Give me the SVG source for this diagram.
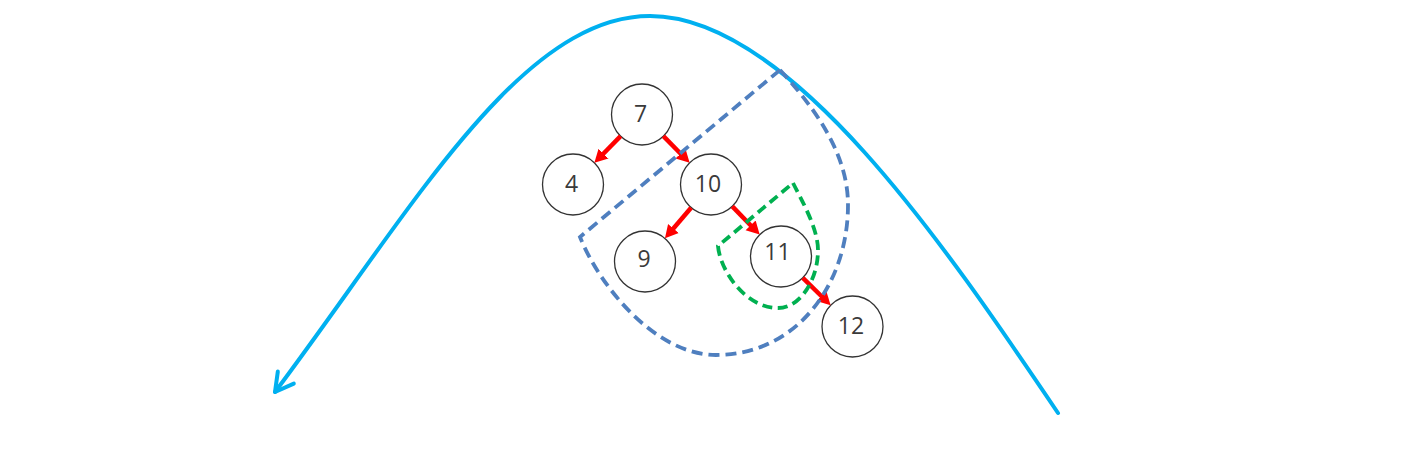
<svg xmlns="http://www.w3.org/2000/svg" width="1409" height="451" viewBox="0 0 1409 451">
<style>
.node circle{fill:#ffffff;stroke:#333333;stroke-width:1.3}
.node text{font-family:"Open Sans","Noto Sans","Liberation Sans",sans-serif;font-size:23px;fill:#3a3a3a;text-anchor:middle}
.edge{stroke:#ff0000;stroke-width:4.5;fill:none;marker-end:url(#rh)}
.sweep{stroke:#00b0f0;stroke-width:4;fill:none;stroke-linecap:round;marker-end:url(#ca)}
.blue{stroke:#4f7fbf;stroke-width:3.8;fill:none;stroke-dasharray:11 6;stroke-linejoin:miter}
.green{stroke:#00b050;stroke-width:3.8;fill:none;stroke-dasharray:10 5.5;stroke-linejoin:miter}
</style>
<defs>
<marker id="rh" markerUnits="userSpaceOnUse" viewBox="0 -8 16 16" markerWidth="16" markerHeight="16" refX="2" refY="0" orient="auto">
<path d="M0,-7 L13,0 L0,7 z" fill="#ff0000"/>
</marker>
<marker id="ca" markerUnits="userSpaceOnUse" viewBox="-24 -14 28 28" markerWidth="28" markerHeight="28" refX="0" refY="0" orient="auto">
<path d="M-18,-10 L0,0 L-18,10" fill="none" stroke="#00b0f0" stroke-width="4" stroke-linecap="round" stroke-linejoin="round"/>
</marker>
</defs>
<rect width="1409" height="451" fill="#ffffff"/>

<g id="sweep-curve">
<path class="sweep" d="M1058,413 C946,247 790,16 650,16 C520,16 411,211 275,392"/>
</g>

<g id="nodes">
<g id="n7" class="node"><circle cx="642" cy="114.5" r="30.5"/><text x="640.5" y="121.5">7</text></g>
<g id="n4" class="node"><circle cx="573" cy="184.5" r="30.5"/><text x="571.7" y="191.5">4</text></g>
<g id="n10" class="node"><circle cx="711" cy="184.5" r="30.5"/><text x="708" y="192">10</text></g>
<g id="n9" class="node"><circle cx="645" cy="261.5" r="30.5"/><text x="644.2" y="266.5">9</text></g>
<g id="n11" class="node"><circle cx="781" cy="256.5" r="30.5"/><text x="777.5" y="260.2">11</text></g>
<g id="n12" class="node"><circle cx="852.5" cy="326.5" r="30.5"/><text x="851" y="333.8">12</text></g>
</g>

<g id="connectors">
<line class="edge" x1="620.6" y1="136.2" x2="602.1" y2="155"/>
<line class="edge" x1="663.4" y1="136.2" x2="681.9" y2="155"/>
<line class="edge" x1="691.1" y1="207.7" x2="672.1" y2="230"/>
<line class="edge" x1="732.3" y1="206.4" x2="752" y2="226.7"/>
<line class="edge" x1="802.8" y1="277.8" x2="822.8" y2="297.5"/>
</g>

<g id="blue-region">
<path class="blue" d="M780,70 C816.8,110 848,155 848,205 C848,285 796,355 716,355 C656,355 600,287 580,237 Z"/>
</g>

<g id="green-region">
<path class="green" d="M793,183 C801,199 818,228 818,250 C818,280 800,308 778,308 C745,308 720,270 718,246 Z"/>
</g>
</svg>
